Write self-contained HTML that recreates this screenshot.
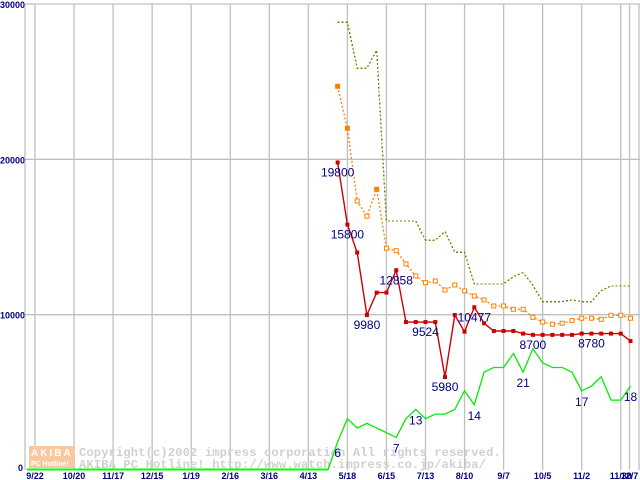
<!DOCTYPE html>
<html><head><meta charset="utf-8"><style>
body{margin:0;background:#fff;width:640px;height:480px;overflow:hidden}
svg{display:block}
.tk{font-family:"Liberation Sans",sans-serif;font-size:9px;font-weight:bold;fill:#000080}
.lb{font-family:"Liberation Sans",sans-serif;font-size:12px;fill:#000080}
.wm{font-family:"Liberation Mono",monospace;font-size:12px;font-weight:bold;fill:#d0d0d0;letter-spacing:0.2px}
</style></head><body>
<svg id="chart" width="640" height="480" xmlns="http://www.w3.org/2000/svg">
<g id="grid"></g>
<g id="wm">
<rect x="29" y="446" width="46" height="22" fill="#f8c8a0"/>
<text x="31" y="456" font-family="Liberation Sans,sans-serif" font-size="10" font-weight="bold" fill="#fff" letter-spacing="2">AKIBA</text>
<text x="31" y="466" font-family="Liberation Sans,sans-serif" font-size="7" font-weight="bold" fill="#fff">PC Hotline!</text>
<text class="wm" x="79" y="456">Copyright(c)2002 impress corporation All rights reserved.</text>
<text class="wm" x="79" y="468">AKIBA PC Hotline!  http://www.watch.impress.co.jp/akiba/</text>
</g>
<g id="series"></g>
<g id="labels"></g>
</svg>
<script>
const xLabels=["9/22","10/20","11/17","12/15","1/19","2/16","3/16","4/13","5/18","6/15","7/13","8/10","9/7","10/5","11/2","11/30","12/7"];
const yTicks=[0,10000,20000,30000];
// weekly series starting one week before 5/18
const redVals=[19800,15800,14000,9980,11420,11420,12858,9524,9524,9524,9524,5980,9980,8905,10477,9446,8950,8950,8950,8780,8700,8700,8700,8700,8700,8780,8780,8780,8780,8780,8300];
const orangeVals=[24700,22000,17320,16340,18070,14280,14120,13265,12490,12060,12170,11590,11910,11530,11200,10950,10560,10560,10350,10350,9830,9530,9380,9450,9620,9770,9770,9700,9960,9960,9770];
const oliveVals=[28830,28830,25870,25870,27040,16030,16030,16030,16030,14800,14800,15350,14020,14020,11980,11980,11980,11980,12450,12700,11900,10840,10840,10840,10950,10840,10840,11550,11850,11850,11850];
// green: shop count, starting two weeks before 5/18
const greenVals=[0,6,11,9,10,9,8,7,11,13,11,12,12,13,17,14,21,22,22,25,21,26,23,22,22,21,17,18,20,15,15,18];
const redLabels=[[-1,"19800"],[0,"15800"],[2,"9980"],[5,"12858"],[8,"9524"],[10,"5980"],[13,"10477"],[19,"8700"],[25,"8780"]];
const greenLabels=[[-1,"6"],[5,"7"],[7,"13"],[13,"14"],[18,"21"],[24,"17"],[29,"18"]];
const GREEN_UNIT=300;
const NS="http://www.w3.org/2000/svg";
const X0=35,XS=39.05,WEEK=XS/4,X518=X0+8*XS;
const yS=v=>470-v*(466/30000);
const xL=i=>i<16?X0+i*XS:X0+15*XS+WEEK*0.9;
const xW=k=>X518+k*WEEK;
function mk(t,a,p){const e=document.createElementNS(NS,t);for(const k in a)e.setAttribute(k,a[k]);(p||document.getElementById('series')).appendChild(e);return e;}
const g=document.getElementById('grid');
for(let i=0;i<xLabels.length;i++){
 const l=mk('line',{x1:xL(i),x2:xL(i),y1:4,y2:470,stroke:'#c0c0c0','stroke-width':1.3},g);
 
 
 const t=mk('text',{x:xL(i),y:479,'text-anchor':'middle',class:'tk'},g);t.textContent=xLabels[i];
 
 
}
mk('line',{x1:639,x2:639,y1:4,y2:470,stroke:'#c0c0c0','stroke-width':1.3},g);
for(const v of yTicks){
 if(v>0){const l=mk('line',{x1:25,x2:640,y1:yS(v),y2:yS(v),stroke:'#c0c0c0','stroke-width':1.3},g);
 
 }
 const t=mk('text',{x:v?0:23,y:yS(v)+(v?4:1),class:'tk','text-anchor':v?'start':'end'},g);t.textContent=String(v);
 
 
}
mk('line',{x1:25,x2:25,y1:4,y2:470,stroke:'#c0c0c0','stroke-width':1.3},g);
function poly(vals,k0,attrs,name){
 const pts=vals.map((v,i)=>xW(k0+i).toFixed(1)+','+yS(v).toFixed(1));
 const p=mk('polyline',Object.assign({points:pts.join(' '),fill:'none'},attrs));
 
 
}
const gb=mk('line',{x1:27,x2:xW(-2),y1:yS(0)-0.5,y2:yS(0)-0.5,stroke:'#00ff00','stroke-width':2});


poly(greenVals.map(v=>v*GREEN_UNIT),-2,{stroke:'#00ee00','stroke-width':1.3},'shop-count-line');
poly(oliveVals,-1,{stroke:'#808000','stroke-width':1.3,'stroke-dasharray':'2,2','shape-rendering':'crispEdges'},'max-price-line');
poly(orangeVals,-1,{stroke:'#ff8000','stroke-width':1.3,'stroke-dasharray':'2,2'},'average-price-line');
orangeVals.forEach((v,i)=>{
 const filled=(i<2||i===4);
 const r=mk('rect',{x:xW(i-1)-2,y:yS(v)-2,width:4,height:4,fill:filled?'#ff8000':'#fff',stroke:'#ff8000','stroke-width':1});
 
 
});
poly(redVals,-1,{stroke:'#cc0000','stroke-width':1.4},'min-price-line');
redVals.forEach((v,i)=>{
 const r=mk('rect',{x:xW(i-1)-2,y:yS(v)-2,width:4,height:4,fill:'#cc0000'});
 
 
});
const lg=document.getElementById('labels');
for(const [k,s] of redLabels){
 const t=mk('text',{x:xW(k),y:yS(redVals[k+1])+14,'text-anchor':'middle',class:'lb'},lg);t.textContent=s;
 
 
}
for(const [k,s] of greenLabels){
 const t=mk('text',{x:xW(k),y:yS(greenVals[k+2]*GREEN_UNIT)+15,'text-anchor':'middle',class:'lb'},lg);t.textContent=s;
 
 
}
</script>
</body></html>
